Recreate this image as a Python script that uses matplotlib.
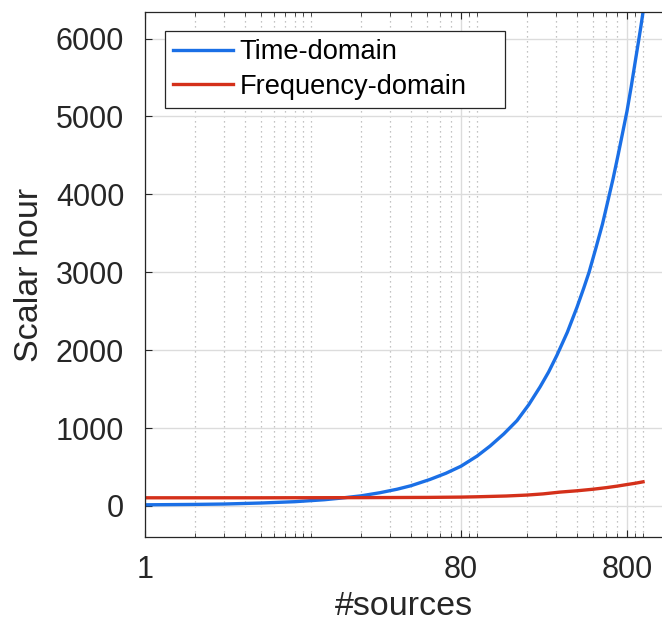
import numpy as np
import matplotlib.pyplot as plt
from matplotlib.ticker import FixedLocator, LogLocator, NullFormatter

plt.rcParams['font.family'] = ['Liberation Sans', 'DejaVu Sans']

# number of sources vs. cost in scalar hours
n_time = [1, 2, 3, 5, 8, 12, 15, 20, 26, 33, 40, 52, 65, 80, 100, 120, 145,
          174, 205, 240, 270, 303, 350, 400, 440, 473, 520, 570, 615, 660,
          710, 760, 801, 850, 900, 937, 970, 1000]
time_domain = [15, 20, 25, 38, 55, 80, 100, 130, 170, 215, 260, 340, 420,
               510, 640, 770, 925, 1095, 1300, 1530, 1720, 1935, 2230, 2550,
               2800, 3000, 3310, 3620, 3920, 4200, 4520, 4830, 5070, 5390,
               5720, 5950, 6150, 6340]

n_freq = [1, 5, 10, 20, 50, 80, 100, 150, 200, 250, 316, 400, 500, 600, 700,
          800, 900, 1000]
freq_domain = [105, 105, 106, 107, 110, 114, 118, 128, 140, 155, 178, 195,
               215, 235, 255, 275, 292, 310]

xticks = [1, 80, 800]
yticks = [0, 1000, 2000, 3000, 4000, 5000, 6000]

fig = plt.figure(figsize=(6.62, 6.21), dpi=100)
ax = fig.add_axes([0.219, 0.1353, 0.781, 0.8454])

ax.plot(n_time, time_domain, color='#1a6fe6', lw=2.4, label='Time-domain')
ax.plot(n_freq, freq_domain, color='#d4301a', lw=2.4, label='Frequency-domain')

ax.set_xscale('log')
ax.set_xlim(1, 1301)
ax.set_ylim(-398, 6341)

ax.xaxis.set_major_locator(FixedLocator(xticks))
ax.set_xticklabels([str(t) for t in xticks])
ax.xaxis.set_minor_locator(LogLocator(base=10, subs=np.arange(2, 11)))
ax.xaxis.set_minor_formatter(NullFormatter())
ax.set_yticks(yticks)

ax.grid(True, which='major', color='#dcdcdc', lw=1.0, ls='-')
ax.grid(True, which='minor', axis='x', color='#b0b0b0', lw=0.9, ls=(0, (1, 3)))
ax.set_axisbelow(True)

ax.tick_params(which='both', direction='in', top=True, right=False,
               color='#262626', labelsize=22, labelcolor='#262626')
ax.tick_params(which='major', length=5, width=0.8)
ax.tick_params(which='minor', length=3, width=0.6)
ax.tick_params(axis='y', pad=15)
ax.tick_params(axis='x', pad=13)

for side in ['left', 'top', 'bottom']:
    ax.spines[side].set_color('#262626')
    ax.spines[side].set_linewidth(0.9)
ax.spines['right'].set_visible(False)

ax.set_xlabel('#sources', fontsize=24.5, color='#262626', labelpad=4)
ax.set_ylabel('Scalar hour', fontsize=24.5, color='#262626', labelpad=8)

# legend box stretched to a fixed width in axes coordinates
leg = ax.legend(loc='upper left', bbox_to_anchor=(0.0387, 0.9638, 0.658, 0.0),
                mode='expand', fontsize=19.6, fancybox=False, framealpha=1,
                edgecolor='#262626', handlelength=2.2, handletextpad=0.25,
                borderpad=0.3, labelspacing=0.32, borderaxespad=0)
leg.get_frame().set_linewidth(0.9)

fig.savefig('out.png', dpi=100)
